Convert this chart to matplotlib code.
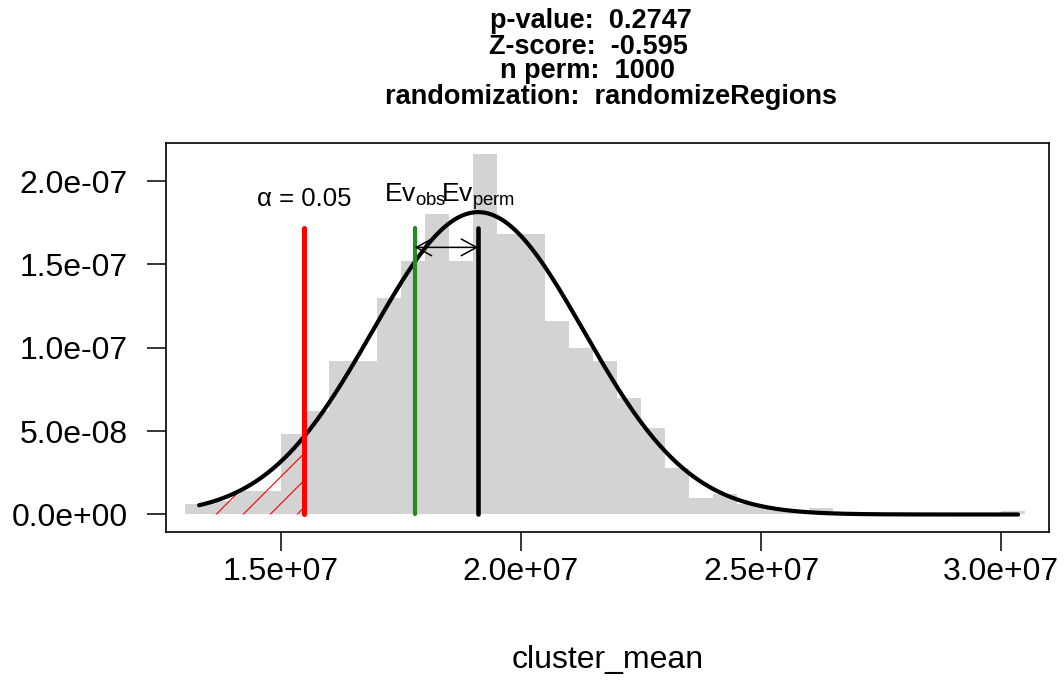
import numpy as np
import matplotlib
matplotlib.use("Agg")
import matplotlib.pyplot as plt
from matplotlib.patches import Polygon

plt.rcParams["font.family"] = ["Liberation Sans", "DejaVu Sans"]
plt.rcParams["mathtext.fontset"] = "custom"
plt.rcParams["mathtext.rm"] = "Liberation Sans"
plt.rcParams["mathtext.it"] = "Liberation Sans:italic"
plt.rcParams["mathtext.bf"] = "Liberation Sans:bold"

# ---------------- data ----------------
n_perm = 1000
bin_start = 1.30e7
bin_width = 0.5e6
counts = [3, 4, 7, 7, 24, 31, 46, 46, 65, 76, 90, 76, 108, 84, 84, 58, 50,
          46, 35, 26, 14, 5, 6, 3, 2, 1, 2, 0, 0, 0, 0, 0, 0, 0, 1]

perm_mean = 1.911e7
perm_sd = 2.2e6
obs_value = 1.779e7
alpha_value = 1.5485e7
curve_min = 1.33e7
curve_max = 3.035e7

vline_top = 1.716e-7
arrow_y = 1.602e-7
alpha_label_y = 1.850e-7
ev_label_y = 1.876e-7

xticks = [1.5e7, 2.0e7, 2.5e7, 3.0e7]
xtick_labels = ["1.5e+07", "2.0e+07", "2.5e+07", "3.0e+07"]
yticks = [0.0, 5e-8, 1e-7, 1.5e-7, 2e-7]
ytick_labels = ["0.0e+00", "5.0e-08", "1.0e-07", "1.5e-07", "2.0e-07"]
xlim = (1.2612e7, 3.0993e7)
ylim = (-1.0315e-8, 2.2279e-7)

title_lines = ["p-value:  0.2747", "Z-score:  -0.595", "n perm:  1000",
               "randomization:  randomizeRegions"]
title_centers_px = [591, 588, 588, 611]
title_baselines_px = [28.5, 53.5, 78.5, 103.5]
title_size = 19.5
xlabel_text = "cluster_mean"
alpha_text = "\u03b1 = 0.05"

# ---------------- figure ----------------
W, H = 1064, 687
fig = plt.figure(figsize=(W / 100, H / 100), dpi=100)
ax_left, ax_right, ax_top, ax_bottom = 166, 1049, 143, 531.7
ax = fig.add_axes([ax_left / W, 1 - ax_bottom / H,
                   (ax_right - ax_left) / W, (ax_bottom - ax_top) / H])
ax.set_xlim(*xlim)
ax.set_ylim(*ylim)

# histogram (density)
edges = bin_start + bin_width * np.arange(len(counts))
dens = np.array(counts) / (n_perm * bin_width)
ax.bar(edges, dens, width=bin_width, align="edge", color="#D3D3D3",
       linewidth=0, zorder=1)

# normal curve
def npdf(x):
    return np.exp(-0.5 * ((x - perm_mean) / perm_sd) ** 2) / (perm_sd * np.sqrt(2 * np.pi))

cx = np.linspace(curve_min, curve_max, 600)
cy = npdf(cx)

# hatched alpha region
hx = cx[cx <= alpha_value]
poly_x = np.concatenate([hx, [alpha_value, alpha_value, hx[0]]])
poly_y = np.concatenate([npdf(hx), [npdf(alpha_value), 0.0, 0.0]])
patch = Polygon(np.column_stack([poly_x, poly_y]), closed=True,
                facecolor="none", edgecolor="none", transform=ax.transData)
ax.add_patch(patch)
trans = ax.transData
inv = trans.inverted()
ax_px, base_px = trans.transform((alpha_value, 0.0))
for k in range(12):
    xb = ax_px - 7 - k * 27
    p0 = inv.transform((xb, base_px))
    p1 = inv.transform((xb + 300, base_px + 300))
    ln, = ax.plot([p0[0], p1[0]], [p0[1], p1[1]], color="red", lw=0.8, zorder=2)
    ln.set_clip_path(patch)

ax.plot(cx, cy, color="black", lw=3, zorder=3, solid_capstyle="round")

# vertical lines
ax.plot([alpha_value, alpha_value], [0, vline_top], color="#FF0000", lw=3.6,
        zorder=4, solid_capstyle="round")
ax.plot([obs_value, obs_value], [0, vline_top], color="#228B22", lw=3.0,
        zorder=4, solid_capstyle="round")
ax.plot([perm_mean, perm_mean], [0, vline_top], color="black", lw=3.3,
        zorder=4, solid_capstyle="round")

# arrow
ax.annotate("", xy=(perm_mean, arrow_y), xytext=(obs_value, arrow_y),
            arrowprops=dict(arrowstyle="<->,head_length=0.55,head_width=0.3",
                            color="black", lw=1.1, shrinkA=0, shrinkB=0,
                            mutation_scale=20), zorder=5)

# labels
ax.text(alpha_value, alpha_label_y, alpha_text, ha="center", va="baseline",
        fontsize=18.5, zorder=6)
ax.text(obs_value, ev_label_y, r"$\mathrm{Ev}_{\mathrm{obs}}$", ha="center",
        va="baseline", fontsize=19, zorder=6)
ax.text(perm_mean, ev_label_y, r"$\mathrm{Ev}_{\mathrm{perm}}$", ha="center",
        va="baseline", fontsize=19, zorder=6)

# axes styling
ax.set_xticks(xticks)
ax.set_xticklabels(xtick_labels)
ax.set_yticks(yticks)
ax.set_yticklabels(ytick_labels)
ax.tick_params(axis="both", direction="out", length=13.5, width=1.1,
               labelsize=23, color="black")
ax.tick_params(axis="x", pad=4.5)
ax.tick_params(axis="y", pad=14)
for sp in ax.spines.values():
    sp.set_linewidth(1.2)
    sp.set_color("black")

ax.set_xlabel(xlabel_text, fontsize=23)
ax.xaxis.label.set_va("center")
ax.xaxis.set_label_coords(0.5, -(660 - ax_bottom) / (ax_bottom - ax_top))

for txt, cxp, byp in zip(title_lines, title_centers_px, title_baselines_px):
    fig.text(cxp / W, 1 - byp / H, txt, ha="center", va="baseline",
             fontsize=title_size, fontweight="bold")

fig.savefig("out.png", dpi=100)
